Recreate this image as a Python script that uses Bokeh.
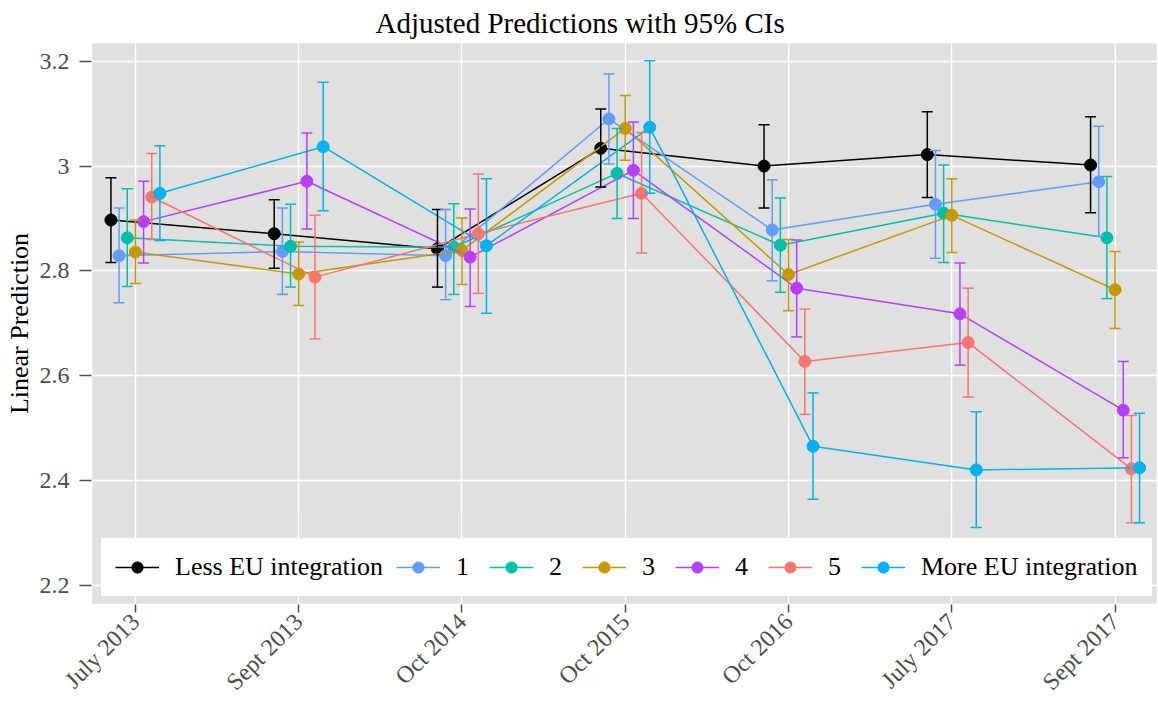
import math

from bokeh.embed import file_html
from bokeh.models import (ColumnDataSource, FixedTicker, Legend, LegendItem,
                          NumeralTickFormatter, Range1d, TeeHead, Title, Whisker)
from bokeh.plotting import figure
from bokeh.resources import INLINE
from bokeh.transform import dodge

# Survey waves (x categories)
waves = ["July 2013", "Sept 2013", "Oct 2014", "Oct 2015",
         "Oct 2016", "July 2017", "Sept 2017"]

# Attitude groups (legend order)
groups = ["Less EU integration", "1", "2", "3", "4", "5", "More EU integration"]

# Adjusted predictions and 95% confidence limits per group and wave
less_est = [2.897, 2.871, 2.842, 3.034, 3.000, 3.022, 3.002]
less_lo  = [2.816, 2.805, 2.769, 2.960, 2.920, 2.940, 2.911]
less_hi  = [2.978, 2.936, 2.917, 3.109, 3.079, 3.104, 3.094]

g1_est = [2.829, 2.837, 2.829, 3.090, 2.878, 2.927, 2.970]
g1_lo  = [2.739, 2.755, 2.745, 3.004, 2.781, 2.824, 2.866]
g1_hi  = [2.920, 2.920, 2.917, 3.176, 2.974, 3.030, 3.076]

g2_est = [2.863, 2.847, 2.845, 2.986, 2.849, 2.910, 2.863]
g2_lo  = [2.770, 2.769, 2.755, 2.900, 2.759, 2.816, 2.747]
g2_hi  = [2.957, 2.927, 2.928, 3.072, 2.939, 3.002, 2.980]

g3_est = [2.836, 2.794, 2.839, 3.072, 2.793, 2.906, 2.764]
g3_lo  = [2.776, 2.734, 2.774, 3.011, 2.724, 2.835, 2.690]
g3_hi  = [2.897, 2.855, 2.901, 3.135, 2.860, 2.976, 2.837]

g4_est = [2.894, 2.971, 2.826, 2.992, 2.767, 2.718, 2.534]
g4_lo  = [2.815, 2.880, 2.732, 2.900, 2.674, 2.620, 2.443]
g4_hi  = [2.971, 3.063, 2.918, 3.084, 2.859, 2.815, 2.627]

g5_est = [2.941, 2.788, 2.871, 2.948, 2.627, 2.663, 2.422]
g5_lo  = [2.860, 2.670, 2.757, 2.834, 2.526, 2.559, 2.319]
g5_hi  = [3.024, 2.906, 2.985, 3.064, 2.727, 2.767, 2.524]

more_est = [2.948, 3.037, 2.848, 3.074, 2.465, 2.420, 2.424]
more_lo  = [2.858, 2.915, 2.719, 2.948, 2.364, 2.310, 2.319]
more_hi  = [3.039, 3.160, 2.976, 3.201, 2.567, 2.531, 2.528]

y_ticks = [2.2, 2.4, 2.6, 2.8, 3.0, 3.2]

series = [
    (less_est, less_lo, less_hi),
    (g1_est, g1_lo, g1_hi),
    (g2_est, g2_lo, g2_hi),
    (g3_est, g3_lo, g3_hi),
    (g4_est, g4_lo, g4_hi),
    (g5_est, g5_lo, g5_hi),
    (more_est, more_lo, more_hi),
]

colors = ["#000000", "#619CFF", "#00C0AA", "#C59900",
          "#B540FF", "#F8766D", "#00B2F0"]
dodge_step = 0.05
FONT = "Liberation Serif"

p = figure(width=1158, height=707, output_backend="svg", toolbar_location=None,
           x_range=Range1d(0.731, 7.266), y_range=Range1d(2.163, 3.236),
           min_border_left=91, min_border_right=0, min_border_bottom=103,
           min_border_top=0,
           background_fill_color="#E0E0E0", border_fill_color="white",
           outline_line_color="white", outline_line_width=1.5)

# Title, centred over the whole canvas
p.title.text = "Adjusted Predictions with 95% CIs"
p.title.text_font = FONT
p.title.text_font_size = "29px"
p.title.text_font_style = "normal"
p.title.text_color = "black"
p.title.align = "left"
p.title.offset = 284
p.title.standoff = 8

# Vertical axis caption
p.add_layout(Title(text="Linear Prediction", align="center", text_font=FONT,
                   text_font_size="26px", text_font_style="normal",
                   text_color="black", standoff=5), "left")

# Grid
for g in (p.xgrid, p.ygrid):
    g.grid_line_color = "white"
    g.grid_line_width = 1.5
p.xgrid.ticker = FixedTicker(ticks=list(range(1, len(waves) + 1)))
p.ygrid.ticker = FixedTicker(ticks=y_ticks)

# Axes
p.xaxis.ticker = FixedTicker(ticks=list(range(1, len(waves) + 1)))
p.xaxis.major_label_overrides = {i + 1: w for i, w in enumerate(waves)}
p.xaxis.major_label_orientation = math.pi / 4
p.yaxis.ticker = FixedTicker(ticks=y_ticks)
p.yaxis.formatter = NumeralTickFormatter(format="0.[0]")
for ax in (p.xaxis, p.yaxis):
    ax.axis_line_color = None
    ax.major_tick_line_color = "#4D4D4D"
    ax.major_tick_line_width = 1.5
    ax.major_tick_in = 0
    ax.minor_tick_line_color = None
    ax.major_label_text_font = FONT
    ax.major_label_text_font_size = "24px"
    ax.major_label_text_color = "#4D4D4D"
p.xaxis.major_tick_out = 8
p.xaxis.major_label_standoff = 5
p.yaxis.major_tick_out = 12
p.yaxis.major_label_standoff = 10

items = []
for k, (name, (est, lo, hi), col) in enumerate(zip(groups, series, colors)):
    src = ColumnDataSource(dict(pos=list(range(1, len(waves) + 1)),
                                est=est, lo=lo, hi=hi))
    off = (k - 3) * dodge_step
    xs = dodge("pos", off, range=p.x_range)
    wk = Whisker(base=xs, lower="lo", upper="hi", source=src,
                 line_color=col, line_width=1.5, level="glyph",
                 upper_head=TeeHead(size=11, line_color=col, line_width=1.5),
                 lower_head=TeeHead(size=11, line_color=col, line_width=1.5))
    p.add_layout(wk)
    ln = p.line(x=xs, y="est", source=src, line_color=col, line_width=1.5)
    pt = p.scatter(x=xs, y="est", source=src, size=12,
                   fill_color=col, line_color=col)
    items.append(LegendItem(label=name, renderers=[ln, pt]))

legend = Legend(items=items, orientation="horizontal", location=(10, 8),
                background_fill_color="white", background_fill_alpha=1.0,
                border_line_color="white", border_line_width=1,
                padding=13, margin=0,
                spacing=13, glyph_width=44, glyph_height=28,
                label_height=28, label_standoff=16,
                label_text_font=FONT, label_text_font_size="26px",
                label_text_color="black")
p.add_layout(legend, "center")

open("out.html", "w").write(file_html(p, INLINE))
